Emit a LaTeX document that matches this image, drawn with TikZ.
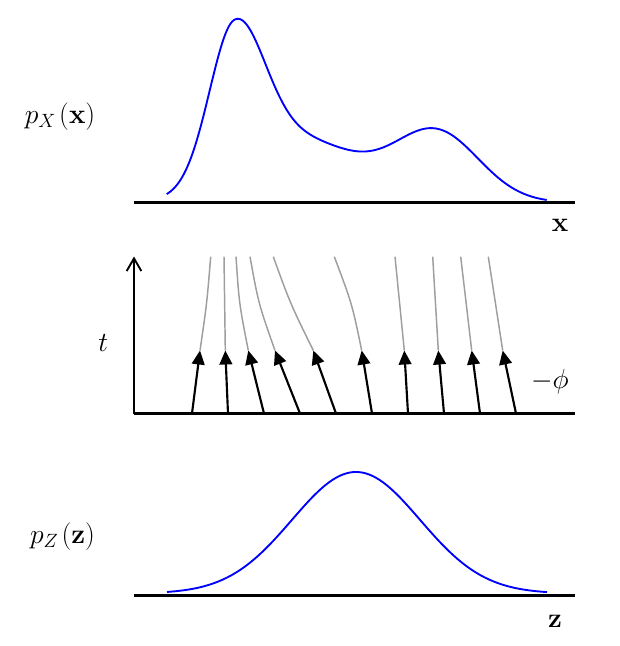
\documentclass[tikz,border=0pt]{standalone}
\usetikzlibrary{arrows.meta,calc}
\begin{document}
\begin{tikzpicture}[x=0.75pt,y=-0.75pt,
  font=\fontsize{20}{24}\selectfont,
  axis/.style={black,line width=2pt},
  taxis/.style={black,line width=1.4pt,-{Straight Barb[length=9.5pt,width=11pt,line width=1.4pt]}},
  density/.style={blue,line width=1.4pt,line join=round},
  flow/.style={black,line width=1.6pt,-{Triangle[length=10.5pt,width=9.5pt]}},
  traj/.style={black!38,line width=1.1pt},
  lbl/.style={anchor=base,inner sep=0pt},
  plbl/.style={lbl,font=\fontsize{21}{25}\selectfont}]
\useasboundingbox (0,0) rectangle (620,646);

% ---------- top panel ----------
\coordinate (xa0) at (134,202.5);
\coordinate (xa1) at (575,202.5);
\draw[axis] (xa0) -- (xa1);
\draw[density] plot[domain=166.7:546.7,samples=240,smooth]
  (\x,{202.5
   -150*exp(-0.5*((\x-234)/ifthenelse(\x<234,25,30))^2)
   -62*exp(-0.5*((\x-300)/58)^2)
   -70*exp(-0.5*((\x-436)/43)^2)});
\node[plbl] (px) at (60,123.3) {$p_X\mkern2mu(\mathbf{x})$};
\node[lbl] (xl) at (560,231.7) {$\mathbf{x}$};

% ---------- middle panel ----------
\coordinate (ma0) at (134,413.5);
\coordinate (ma1) at (575,413.5);
\coordinate (mt) at (134,256.5);
\draw[axis] (ma0) -- (ma1);
\draw[taxis] (ma0) -- (mt);
\foreach \i/\bx/\hx/\ex/\cdx in {
  1/192/200/210.7/1.5, 2/228/225.3/224/0, 3/264/248.3/236/-3,
  4/300/275/250/-4, 5/336/313.3/273.3/-3, 6/372/361.7/334.3/4,
  7/408/404.3/395/0, 8/444/438.3/432.7/0, 9/480/471.7/460.7/0,
  10/516/502.7/488.3/0}
{
  \coordinate (b\i) at (\bx,413.5);
  \coordinate (h\i) at (\hx,350.5);
  \coordinate (e\i) at (\ex,256.7);
  \draw[traj] (h\i) .. controls ($(h\i)!0.5!(e\i)+(\cdx,0)$) .. (e\i);
  \draw[flow] (b\i) -- (h\i);
}
\node[lbl] (tl) at (103.3,351.7) {$t$};
\node[lbl] (phi) at (550,388) {$-\phi$};

% ---------- bottom panel ----------
\coordinate (za0) at (134,595.5);
\coordinate (za1) at (575,595.5);
\draw[axis] (za0) -- (za1);
\draw[density] plot[domain=167:547,samples=150,smooth]
  (\x,{595.5-2-121.5*exp(-0.5*((\x-356)/64)^2)});
\node[plbl] (pz) at (62.5,543.3) {$p_Z\mkern2mu(\mathbf{z})$};
\node[lbl] (zl) at (555,627) {$\mathbf{z}$};
\end{tikzpicture}
\end{document}
